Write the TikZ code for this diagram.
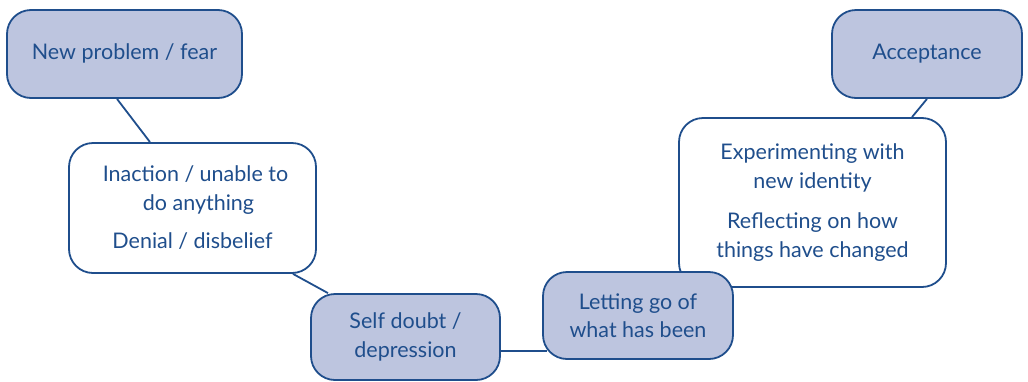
\documentclass[tikz,border=0pt]{standalone}
\usepackage{fontspec}
\setmainfont{Lato}
\usetikzlibrary{calc}
\definecolor{dblue}{HTML}{1F4E8C}
\definecolor{lblue}{HTML}{BDC5DF}
\pgfdeclarelayer{bg}
\pgfsetlayers{bg,main}
\tikzset{
  box/.style={draw=dblue, line width=1.8pt, rounded corners=24pt, align=center,
    text=dblue, font=\fontsize{21.5}{28.5}\selectfont, inner sep=0pt},
  filled/.style={box, fill=lblue},
  plain/.style={box, fill=white},
  conn/.style={draw=dblue, line width=1.8pt}
}
\begin{document}
\begin{tikzpicture}[x=1pt,y=-1pt]
\useasboundingbox (0,0) rectangle (1028,381);
\node[filled, minimum width=235pt, minimum height=88pt] (np) at (124.5,54) {\raisebox{4pt}{New problem / fear}};
\node[plain, minimum width=247pt, minimum height=130pt] (ina) at (192.5,208)
  {\hspace*{6pt}Inaction / unable to\\\hspace*{12pt}do anything\\[10pt]Denial / disbelief};
\node[filled, minimum width=189pt, minimum height=86pt] (sd) at (405.5,337) {Self doubt /\\depression};
\node[plain, minimum width=267pt, minimum height=169pt] (ex) at (812.5,202.5)
  {Experimenting with\\new identity\\[12pt]Reflecting on how\\things have changed};
\node[filled, minimum width=190pt, minimum height=87pt] (lg) at (638,315.5) {Letting go of\\what has been};
\node[filled, minimum width=190pt, minimum height=88pt] (acc) at (927,54) {\raisebox{4pt}{Acceptance}};
\begin{pgfonlayer}{bg}
\draw[conn] ($(np.south)+(-7.5,0)$) -- ($(ina.north)+(-42.5,0)$);
\draw[conn] ($(ina.south)+(100.5,0)$) -- ($(sd.north)+(-77.5,0)$);
\draw[conn] ($(sd.east)+(-5,14)$) -- ($(lg.west)+(5,35.5)$);
\draw[conn] ($(ex.north)+(99.5,0)$) -- ($(acc.south)+(0,0)$);
\end{pgfonlayer}
\end{tikzpicture}
\end{document}
